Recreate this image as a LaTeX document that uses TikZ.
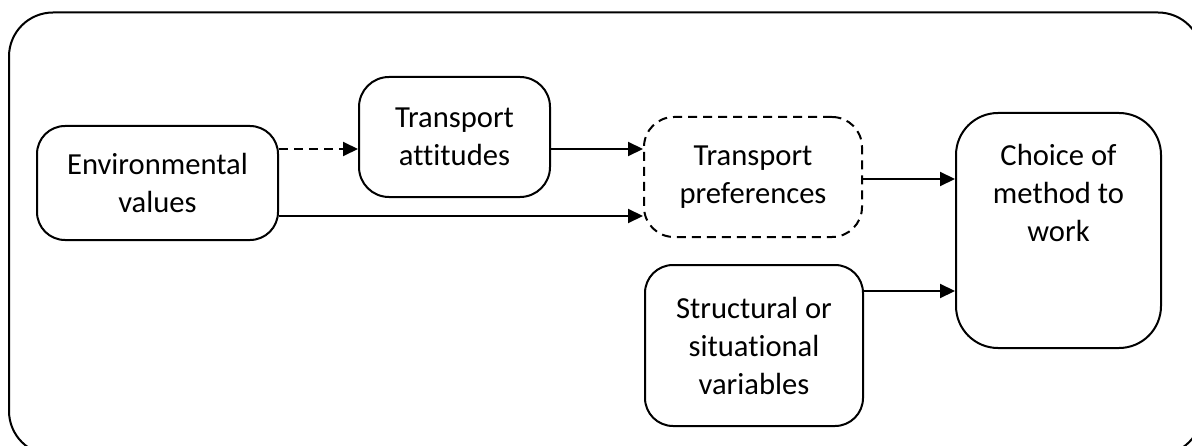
\documentclass[tikz,border=0pt]{standalone}
\usepackage{fontspec}
\setmainfont{Carlito}[Ligatures=NoCommon]
\usetikzlibrary{arrows.meta}

\begin{document}
\begin{tikzpicture}[x=0.5pt, y=0.5pt,
    box/.style={draw, line width=1pt, rounded corners=14pt, align=center,
      inner sep=0pt, font=\fontsize{15.3}{19}\selectfont},
    arr/.style={line width=1pt, -{Triangle[length=7.5pt, width=7pt]}},
    dashline/.style={dash pattern=on 4.5pt off 3pt}]
    % Frame
    \useasboundingbox (0,0) rectangle (1192,445);
    \clip (0,0) rectangle (1192,445);
    \draw[line width=1pt, rounded corners=22pt] (9,-10) rectangle (1202,432.5);

    % Boxes
    \node[box, minimum width=120.5pt, minimum height=57pt] (env) at (157.5,262) {Environmental\\values};
    \node[box, rounded corners=15pt, minimum width=95.5pt, minimum height=60pt] (att) at (454.5,308) {Transport\\attitudes};
    \node[box, dashline, rounded corners=15pt, minimum width=109pt, minimum height=60pt] (pref) at (753,268) {Transport\\preferences};
    \node[box, minimum width=109pt, minimum height=80.5pt] (struct) at (754,99.5) {Structural or\\situational\\variables};
    \node[box, rounded corners=21pt, minimum width=102.5pt, minimum height=117.5pt] (choice) at (1058.5,214.5) {};
    \node[anchor=north, align=center, inner sep=0pt, font=\fontsize{15.3}{19}\selectfont]
      (choicetext) at ([yshift=-16pt]choice.north) {Choice of\\method to\\work};

    % Arrows
    \draw[arr, dashline] ([yshift=17pt]env.east) -- ([yshift=-6pt]att.west);
    \draw[arr] ([yshift=-6pt]att.east) -- ([yshift=14pt]pref.west);
    \draw[arr] ([yshift=-16.5pt]env.east) -- ([yshift=-19.5pt]pref.west);
    \draw[arr] ([yshift=-1pt]pref.east) -- ([yshift=25.75pt]choice.west);
    \draw[arr] ([yshift=27.25pt]struct.east) -- ([yshift=-30.25pt]choice.west);
\end{tikzpicture}
\end{document}
